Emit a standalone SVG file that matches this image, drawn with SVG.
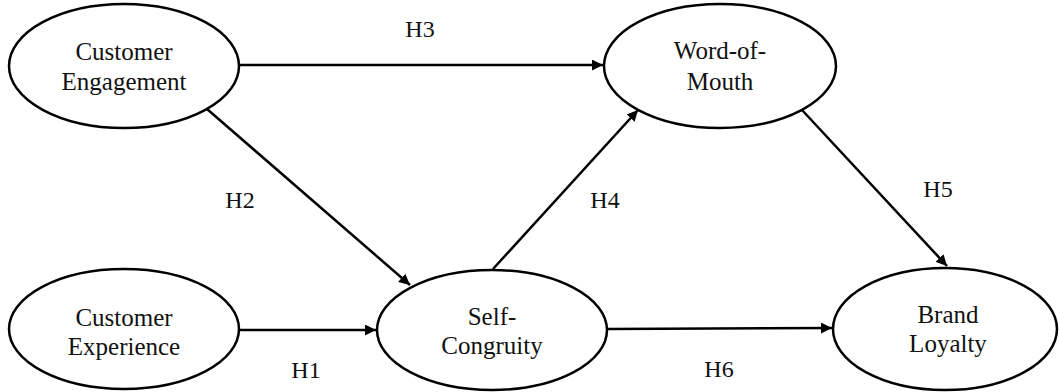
<svg xmlns="http://www.w3.org/2000/svg" width="1059" height="392" viewBox="0 0 1059 392">
<defs>
<style>
.node ellipse{fill:#fff;stroke:#000;stroke-width:2.5}
text{font-family:"Liberation Serif","Times New Roman",serif;font-size:25px;fill:#111;text-anchor:middle}
#labels text{font-size:24px}
.edges line{stroke:#000;stroke-width:2.5}
</style>
<marker id="ah" viewBox="0 0 10 10" refX="10" refY="5" markerWidth="4.4" markerHeight="4.4" orient="auto" markerUnits="strokeWidth">
<path d="M0,0 L10,5 L0,10 Z" fill="#000"/>
</marker>
</defs>
<rect width="1059" height="392" fill="#fff"/>
<g class="edges">
<line x1="239" y1="65" x2="603" y2="65" marker-end="url(#ah)"/>
<line x1="207" y1="109" x2="410" y2="285" marker-end="url(#ah)"/>
<line x1="239" y1="330" x2="376" y2="330" marker-end="url(#ah)"/>
<line x1="493" y1="269" x2="638" y2="110" marker-end="url(#ah)"/>
<line x1="802" y1="110" x2="947" y2="266" marker-end="url(#ah)"/>
<line x1="608" y1="329" x2="832" y2="328" marker-end="url(#ah)"/>
</g>
<g id="customer-engagement" class="node">
<ellipse cx="124" cy="66" rx="115" ry="62"/>
<text x="124" y="60">Customer</text>
<text x="124" y="90">Engagement</text>
</g>
<g id="word-of-mouth" class="node">
<ellipse cx="720" cy="66" rx="116" ry="62"/>
<text x="720" y="59">Word-of-</text>
<text x="720" y="90">Mouth</text>
</g>
<g id="customer-experience" class="node">
<ellipse cx="124" cy="329" rx="115" ry="60"/>
<text x="124" y="326">Customer</text>
<text x="124" y="355">Experience</text>
</g>
<g id="self-congruity" class="node">
<ellipse cx="492" cy="330" rx="115" ry="60"/>
<text x="492" y="325">Self-</text>
<text x="492" y="354">Congruity</text>
</g>
<g id="brand-loyalty" class="node">
<ellipse cx="945" cy="329" rx="112" ry="61"/>
<text x="948" y="323">Brand</text>
<text x="948" y="352">Loyalty</text>
</g>
<g id="labels">
<text x="420" y="37">H3</text>
<text x="240" y="208">H2</text>
<text x="605" y="208">H4</text>
<text x="938" y="197">H5</text>
<text x="306" y="378">H1</text>
<text x="719" y="377">H6</text>
</g>
</svg>
